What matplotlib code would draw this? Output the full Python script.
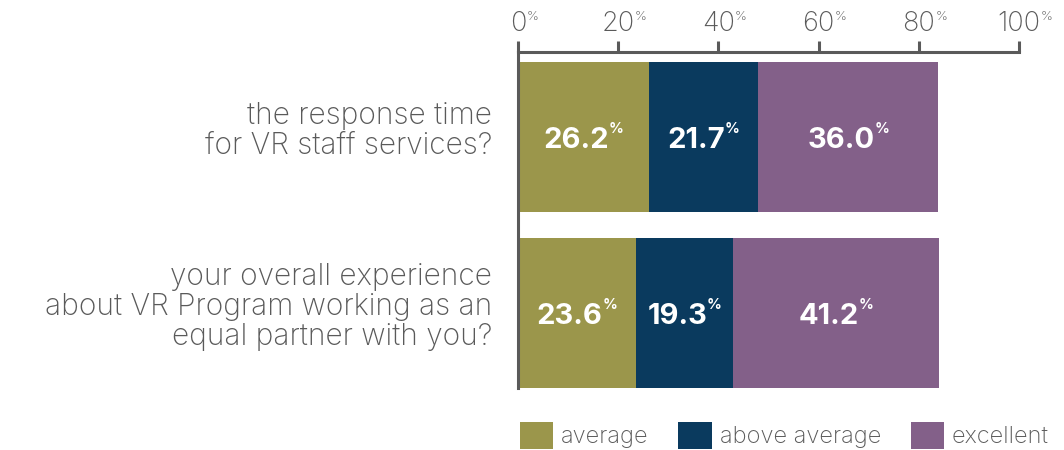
import matplotlib
matplotlib.use("Agg")
import matplotlib.pyplot as plt
from matplotlib.transforms import offset_copy
from matplotlib.patches import Patch

categories = ["the response time\nfor VR staff services?",
              "your overall experience\nabout VR Program working as an\nequal partner with you?"]
series_names = ["average", "above average", "excellent"]
average = [26.2, 23.6]
above_average = [21.7, 19.3]
excellent = [36.0, 41.2]
tick_values = [0, 20, 40, 60, 80, 100]

colors = ["#9B964B", "#0A3A5E", "#836089"]
gray = "#5a5a5a"
FONT = "Inter"
TEXT_WEIGHT = "light"

plt.rcParams["font.family"] = [FONT, "DejaVu Sans"]

dpi = 100
fig = plt.figure(figsize=(10.64, 4.5), dpi=dpi)
ax = fig.add_axes([518/1064, 1-388/450, (1019-518)/1064, (388-52)/450])

series = [average, above_average, excellent]
ypos = list(range(len(categories)))
bar_h = 0.852
left = [0.0] * len(categories)
bars = []
for vals, col, name in zip(series, colors, series_names):
    b = ax.barh(ypos, vals, left=left, height=bar_h, color=col, label=name, linewidth=0)
    bars.append(b)
    left = [l + v for l, v in zip(left, vals)]

ax.set_xlim(0, 100)
ax.set_ylim(1.426, -0.483)

for s in ["right", "bottom"]:
    ax.spines[s].set_visible(False)
for s in ["top", "left"]:
    ax.spines[s].set_color(gray)
    ax.spines[s].set_linewidth(2.2)
    ax.spines[s].set_capstyle("projecting")
ax.set_yticks([])
ax.xaxis.set_ticks_position("top")
ax.set_xticks(tick_values)
ax.tick_params(axis="x", direction="out", length=8, width=2.2, color=gray,
               labeltop=False, labelbottom=False)

renderer = fig.canvas.get_renderer()


def sup_text(x, y, main, sup, main_size, sup_size, color, weight):
    t1 = ax.text(x, y, main, ha="left", va="baseline",
                 fontsize=main_size, color=color, fontweight=weight)
    t2 = ax.text(x, y, sup, ha="left", va="baseline",
                 fontsize=sup_size, color=color, fontweight=weight)
    w1 = t1.get_window_extent(renderer).width
    w2 = t2.get_window_extent(renderer).width
    return t1, t2, w1, w2


# tick labels: number centered on tick, % to the right
for v in tick_values:
    t1, t2, w1, w2 = sup_text(v, -0.483, str(v), "%", 19.5, 9.5, gray, "light")
    t1.set_transform(offset_copy(ax.transData, fig=fig, x=-w1/2, y=21, units="dots"))
    t2.set_transform(offset_copy(ax.transData, fig=fig, x=w1/2, y=32, units="dots"))
    t1.set_clip_on(False); t2.set_clip_on(False)

# bar value labels centered in each segment
for b, vals in zip(bars, series):
    for rect, v in zip(b.patches, vals):
        cx = rect.get_x() + rect.get_width() / 2
        cy = rect.get_y() + rect.get_height() / 2
        t1, t2, w1, w2 = sup_text(cx, cy, f"{v:.1f}", "%", 21, 10.5, "white", "bold")
        total = w1 + w2
        t1.set_transform(offset_copy(ax.transData, fig=fig, x=-total/2, y=-11, units="dots"))
        t2.set_transform(offset_copy(ax.transData, fig=fig, x=-total/2 + w1, y=4, units="dots"))

# category labels
for y, cat in zip(ypos, categories):
    ax.annotate(cat, xy=(0, y), xytext=(-26, 6), textcoords="offset pixels",
                ha="right", va="center", multialignment="right",
                fontsize=21.5, color=gray, fontweight=TEXT_WEIGHT, linespacing=1.1,
                annotation_clip=False)

handles = [Patch(facecolor=c, edgecolor="none", label=n) for c, n in zip(colors, series_names)]
leg = fig.legend(handles=handles, loc="lower left", bbox_to_anchor=(520/1064, 1-449/450),
                 ncol=3, frameon=False, fontsize=17, handlelength=1.4, handleheight=1.4,
                 handletextpad=0.35, columnspacing=1.25, borderpad=0, borderaxespad=0)
for t in leg.get_texts():
    t.set_color(gray)
    t.set_fontweight(TEXT_WEIGHT)

fig.savefig("out.png", dpi=dpi)
